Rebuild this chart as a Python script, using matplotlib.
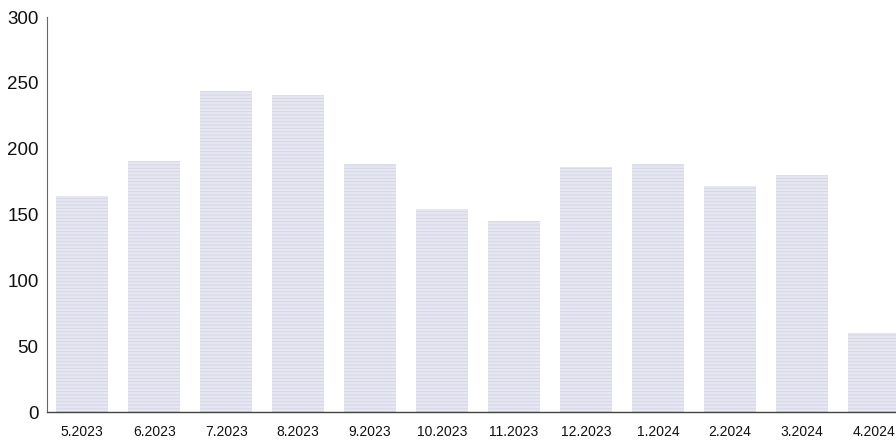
import matplotlib
matplotlib.use("Agg")
import matplotlib.pyplot as plt

months = ["5.2023", "6.2023", "7.2023", "8.2023", "9.2023", "10.2023",
          "11.2023", "12.2023", "1.2024", "2.2024", "3.2024", "4.2024"]
values = [164, 191, 244, 241, 188, 154, 145, 186, 188, 172, 180, 60]
yticks = [0, 50, 100, 150, 200, 250, 300]

plt.rcParams['font.family'] = ['Liberation Sans', 'DejaVu Sans']
plt.rcParams['hatch.linewidth'] = 0.6

fig = plt.figure(figsize=(8.96, 4.4), dpi=100)
ax = fig.add_axes([47/896, 28/440, 1 - 47/896, 395/440])

x = list(range(len(months)))
ax.bar(x, values, width=0.72, color='#e5e6f0', edgecolor='#d3d5e6',
       linewidth=0, hatch='-----')

ax.set_ylim(0, 300)
ax.set_xlim(-0.49, 11.31)
ax.set_yticks(yticks)
ax.set_yticklabels([str(v) for v in yticks], fontsize=13.5, color='#111111')
ax.set_xticks(x)
ax.set_xticklabels(months, fontsize=10, color='#111111')
ax.tick_params(axis='both', length=0)
ax.tick_params(axis='y', pad=6)
ax.tick_params(axis='x', pad=9)
for s in ['top', 'right']:
    ax.spines[s].set_visible(False)
ax.spines['left'].set_color('#666666')
ax.spines['bottom'].set_color('#444444')
ax.spines['left'].set_linewidth(0.8)
ax.spines['bottom'].set_linewidth(1.0)

fig.savefig("out.png", dpi=100)
